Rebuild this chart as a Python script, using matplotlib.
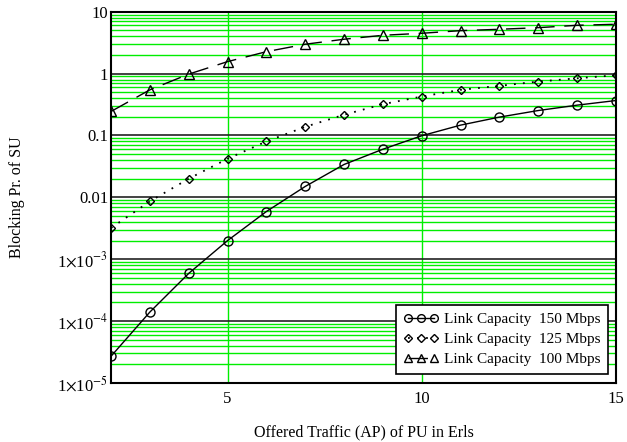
import numpy as np
import matplotlib
matplotlib.use('Agg')
import matplotlib.pyplot as plt
from matplotlib.ticker import LogLocator, NullFormatter, FixedLocator

plt.rcParams['font.family'] = ['Liberation Serif', 'DejaVu Serif']
plt.rcParams['mathtext.fontset'] = 'stix'

# offered traffic (Erls)
traffic = [2, 3, 4, 5, 6, 7, 8, 9, 10, 11, 12, 13, 14, 15]
# blocking probability
cap150 = [2.7e-5, 1.4e-4, 5.9e-4, 2.0e-3, 5.9e-3, 0.015, 0.034, 0.060,
          0.099, 0.147, 0.198, 0.253, 0.309, 0.367]
cap125 = [0.0032, 0.0086, 0.020, 0.042, 0.080, 0.138, 0.216, 0.32,
          0.426, 0.546, 0.634, 0.743, 0.84, 0.94]
cap100 = [0.244, 0.546, 0.98, 1.56, 2.26, 2.98, 3.59, 4.16,
          4.48, 4.94, 5.2, 5.52, 6.03, 6.27]

ytick_vals = [1e-5, 1e-4, 1e-3, 0.01, 0.1, 1, 10]
ytick_labels = [r'1$\times$10$^{-5}$', r'1$\times$10$^{-4}$', r'1$\times$10$^{-3}$',
                '0.01', '0.1', '1', '10']
xtick_vals = [5, 10, 15]

green = '#00ee00'

fig = plt.figure(figsize=(6.27, 4.42), dpi=100)
ax = fig.add_axes([111/627, 1 - 383/442, (616-111)/627, (383-11.7)/442])

ax.plot(traffic, cap150, color='k', lw=1, ls='-', marker='o', ms=6.5,
        mfc='none', mec='k', mew=1, label='Link Capacity  150 Mbps')
ax.plot(traffic, cap125, color='k', lw=1.3, ls=(0, (1, 4)), marker='D', ms=4.5,
        mfc='none', mec='k', mew=1, label='Link Capacity  125 Mbps')
ax.plot(traffic, cap100, color='k', lw=1, ls=(0, (14, 7)), marker='^', ms=6.5,
        mfc='none', mec='k', mew=1, label='Link Capacity  100 Mbps')

ax.set_yscale('log')
ax.set_xlim(2, 15)
ax.set_ylim(1e-5, 10)

ax.yaxis.set_major_locator(FixedLocator(ytick_vals))
ax.set_yticklabels(ytick_labels)
ax.yaxis.set_minor_locator(LogLocator(base=10, subs=np.arange(2, 10)))
ax.yaxis.set_minor_formatter(NullFormatter())
ax.set_xticks(xtick_vals)
ax.set_xticklabels([str(v) for v in xtick_vals])

ax.grid(True, which='minor', axis='y', color=green, lw=1)
ax.grid(True, which='major', axis='y', color='#222222', lw=1.2)
ax.grid(True, which='major', axis='x', color=green, lw=1)
ax.set_axisbelow(True)

ax.tick_params(which='both', length=0, labelsize=12)
ax.tick_params(axis='y', pad=2)
ax.tick_params(axis='x', pad=6)
for s in ax.spines.values():
    s.set_linewidth(1.5)
    s.set_color('k')

ax.set_xlabel('Offered Traffic (AP) of PU in Erls', fontsize=11.5)
ax.xaxis.label.set_va('center')
ax.xaxis.set_label_coords(0.5, (383 - 432) / 371.3)
ax.set_ylabel('Blocking Pr. of SU', fontsize=11.5)
ax.yaxis.label.set_va('center')
ax.yaxis.set_label_coords((17 - 111) / 505, 0.5)

leg = ax.legend(loc='lower right', bbox_to_anchor=(0.985, 0.025), numpoints=3,
                handlelength=2.3, handletextpad=0.35, fontsize=11, markerscale=0.85,
                frameon=True, fancybox=False, borderpad=0.5, labelspacing=0.4,
                borderaxespad=0)
leg.get_frame().set_edgecolor('k')
leg.get_frame().set_linewidth(1.2)
leg.get_frame().set_alpha(1)

fig.savefig('out.png', dpi=100)
